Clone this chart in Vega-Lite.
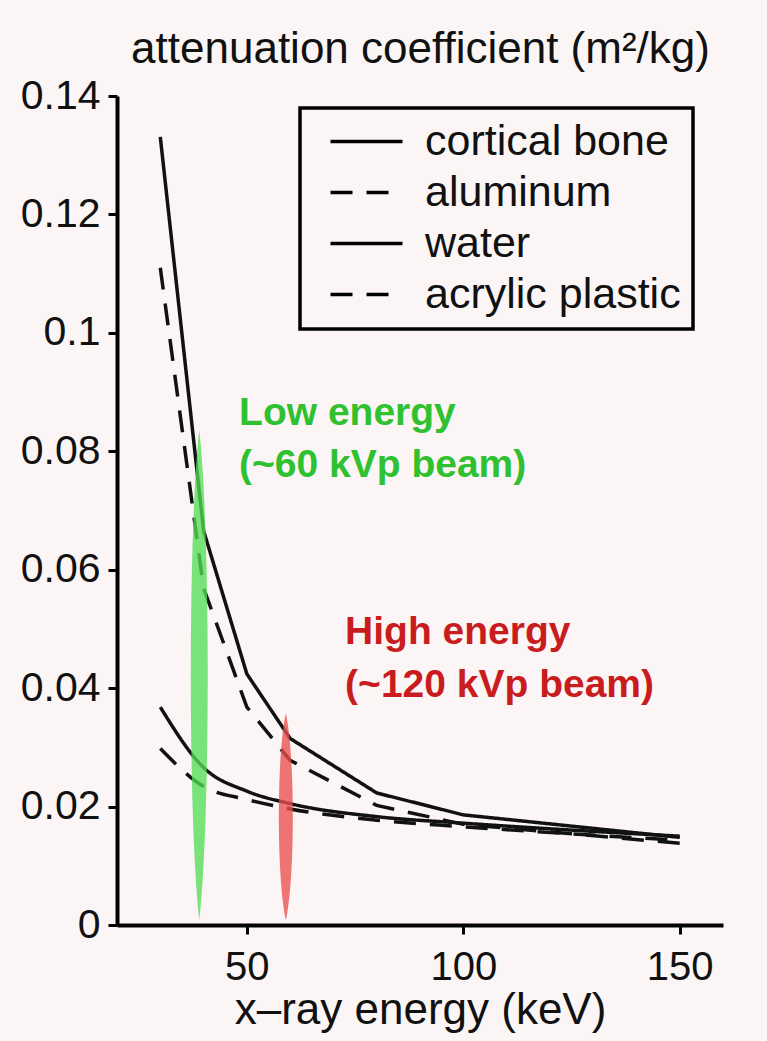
{
  "$schema": "https://vega.github.io/schema/vega-lite/v6.json",
  "width": 606,
  "height": 829,
  "autosize": {"type": "none"},
  "padding": {"left": 117, "top": 96, "right": 44, "bottom": 116},
  "background": "#fbf6f5",
  "config": {"view": {"stroke": null}, "font": "Liberation Sans"},
  "datasets": {
    "curves": [
      {"material": "cortical bone", "energy": 30, "mu": 0.1331},
      {"material": "cortical bone", "energy": 40, "mu": 0.0666},
      {"material": "cortical bone", "energy": 50, "mu": 0.0424},
      {"material": "cortical bone", "energy": 60, "mu": 0.0315},
      {"material": "cortical bone", "energy": 80, "mu": 0.0223},
      {"material": "cortical bone", "energy": 100, "mu": 0.0186},
      {"material": "cortical bone", "energy": 150, "mu": 0.0148},
      {"material": "aluminum", "energy": 30, "mu": 0.1110},
      {"material": "aluminum", "energy": 40, "mu": 0.0569},
      {"material": "aluminum", "energy": 50, "mu": 0.0368},
      {"material": "aluminum", "energy": 60, "mu": 0.0278},
      {"material": "aluminum", "energy": 80, "mu": 0.0202},
      {"material": "aluminum", "energy": 100, "mu": 0.0170},
      {"material": "aluminum", "energy": 150, "mu": 0.0138},
      {"material": "water", "energy": 30, "mu": 0.0368},
      {"material": "water", "energy": 40, "mu": 0.0266},
      {"material": "water", "energy": 50, "mu": 0.0226},
      {"material": "water", "energy": 60, "mu": 0.0205},
      {"material": "water", "energy": 80, "mu": 0.0183},
      {"material": "water", "energy": 100, "mu": 0.0172},
      {"material": "water", "energy": 150, "mu": 0.0150},
      {"material": "acrylic plastic", "energy": 30, "mu": 0.0298},
      {"material": "acrylic plastic", "energy": 40, "mu": 0.0234},
      {"material": "acrylic plastic", "energy": 50, "mu": 0.0212},
      {"material": "acrylic plastic", "energy": 60, "mu": 0.0196},
      {"material": "acrylic plastic", "energy": 80, "mu": 0.0177},
      {"material": "acrylic plastic", "energy": 100, "mu": 0.0166},
      {"material": "acrylic plastic", "energy": 150, "mu": 0.0143}
    ],
    "beams": [
      {"beam": "low", "energy": 39, "mu": 0.0422},
      {"beam": "high", "energy": 59, "mu": 0.0183}
    ],
    "notes": [
      {"beam": "low", "text": "Low energy", "energy": 48.2, "mu": 0.0844},
      {"beam": "low", "text": "(~60 kVp beam)", "energy": 48.2, "mu": 0.0757},
      {"beam": "high", "text": "High energy", "energy": 72.7, "mu": 0.0475},
      {"beam": "high", "text": "(~120 kVp beam)", "energy": 72.7, "mu": 0.0385}
    ]
  },
  "layer": [
    {
      "data": {"name": "curves"},
      "transform": [{"filter": "datum.material === 'cortical bone' || datum.material === 'aluminum'"}],
      "mark": {"type": "line", "stroke": "#111", "strokeWidth": 3.5},
      "encoding": {
        "x": {
          "field": "energy", "type": "quantitative",
          "scale": {"domain": [20, 160], "nice": false, "zero": false},
          "axis": {
            "values": [50, 100, 150],
            "title": "x–ray energy (keV)",
            "grid": false,
            "domainColor": "#000", "domainWidth": 4,
            "tickColor": "#000", "tickWidth": 3, "tickSize": 9,
            "labelFontSize": 40, "labelColor": "#111", "labelPadding": 13, "labelFlush": false,
            "titleFontSize": 44, "titleFontWeight": "normal", "titleColor": "#111",
            "titleX": 303, "titleY": 98, "titleAlign": "center", "titleBaseline": "alphabetic",
            "encode": {"ticks": {"update": {"y2": {"value": -9}}}}
          }
        },
        "y": {
          "field": "mu", "type": "quantitative",
          "scale": {"domain": [0, 0.14], "nice": false},
          "axis": {
            "values": [0, 0.02, 0.04, 0.06, 0.08, 0.1, 0.12, 0.14],
            "format": ".2~f",
            "title": "attenuation coefficient (m²/kg)",
            "grid": false,
            "domainColor": "#000", "domainWidth": 4,
            "tickColor": "#000", "tickWidth": 3, "tickSize": 9,
            "labelFontSize": 41, "labelColor": "#111", "labelPadding": 8, "labelFlush": false,
            "titleFontSize": 44, "titleFontWeight": "normal", "titleColor": "#111",
            "titleAngle": 0, "titleX": 303, "titleY": -34, "titleAlign": "center", "titleBaseline": "alphabetic",
            "encode": {"ticks": {"update": {"x2": {"value": 9}}}}
          }
        },
        "detail": {"field": "material"},
        "strokeDash": {
          "field": "material", "type": "nominal",
          "scale": {"domain": ["cortical bone", "aluminum", "water", "acrylic plastic"], "range": [[1, 0], [22, 14], [1, 0], [22, 14]]},
          "legend": {
            "orient": "none", "legendX": 183, "legendY": 12,
            "title": null,
            "symbolType": "M-2,0 H2", "symbolSize": 1296, "symbolStrokeWidth": 3.5, "symbolStrokeColor": "#000", "symbolFillColor": "transparent",
            "labelFontSize": 43, "labelColor": "#111", "labelOffset": 37, "labelLimit": 500,
            "labelExpr": "datum.label + '\u00a0\u00a0'",
            "padding": 12, "symbolOffset": 33, "rowPadding": 7,
            "strokeColor": "#000", "fillColor": "#fbf6f5",
            "encode": {
              "legend": {"update": {"strokeWidth": {"value": 3.5}}}
            }
          }
        }
      }
    },
    {
      "data": {"name": "curves"},
      "transform": [{"filter": "datum.material === 'water' || datum.material === 'acrylic plastic'"}],
      "mark": {"type": "line", "stroke": "#111", "strokeWidth": 3.5, "interpolate": "monotone"},
      "encoding": {
        "x": {"field": "energy", "type": "quantitative"},
        "y": {"field": "mu", "type": "quantitative"},
        "detail": {"field": "material"},
        "strokeDash": {"field": "material", "type": "nominal"}
      }
    },
    {
      "data": {"name": "beams"},
      "transform": [{"filter": "datum.beam === 'low'"}],
      "mark": {"type": "point", "filled": true, "fill": "#55dd55", "fillOpacity": 0.78, "strokeWidth": 0,
               "shape": "M0,-1 C0.046,-0.6 0.046,0.6 0,1 C-0.046,0.6 -0.046,-0.6 0,-1 Z", "size": 240100},
      "encoding": {
        "x": {"field": "energy", "type": "quantitative"},
        "y": {"field": "mu", "type": "quantitative"}
      }
    },
    {
      "data": {"name": "beams"},
      "transform": [{"filter": "datum.beam === 'high'"}],
      "mark": {"type": "point", "filled": true, "fill": "#ea5050", "fillOpacity": 0.78, "strokeWidth": 0,
               "shape": "M0,-1 C0.09,-0.6 0.09,0.6 0,1 C-0.09,0.6 -0.09,-0.6 0,-1 Z", "size": 42849},
      "encoding": {
        "x": {"field": "energy", "type": "quantitative"},
        "y": {"field": "mu", "type": "quantitative"}
      }
    },
    {
      "data": {"name": "notes"},
      "mark": {"type": "text", "align": "left", "baseline": "alphabetic", "fontSize": 39, "fontWeight": "bold"},
      "encoding": {
        "x": {"field": "energy", "type": "quantitative"},
        "y": {"field": "mu", "type": "quantitative"},
        "text": {"field": "text"},
        "color": {"field": "beam", "type": "nominal", "scale": {"domain": ["low", "high"], "range": ["#2fc12f", "#c91c1f"]}, "legend": null}
      }
    }
  ]
}
